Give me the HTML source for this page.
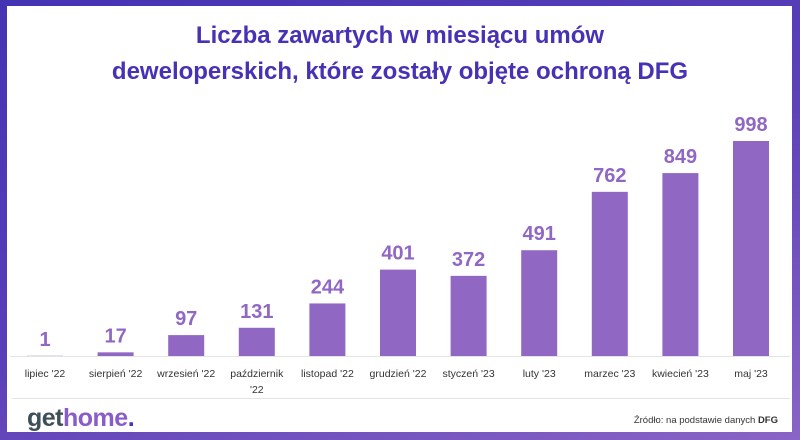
<!DOCTYPE html>
<html><head><meta charset="utf-8"><style>
html,body{margin:0;padding:0;background:#fff}
#wrap{position:relative;width:800px;height:440px;overflow:hidden;background:linear-gradient(160deg,#4433b3 0%,#5a3fb8 50%,#8a64c6 100%);font-family:"Liberation Sans",sans-serif}
#inner{position:absolute;left:7px;top:6px;width:785px;height:426px;background:#fff}
</style></head><body>
<div id="wrap">
<div id="inner"></div>
<svg id="chart" width="800" height="440" style="position:absolute;left:0;top:0">
<text x="400" y="43" text-anchor="middle" font-size="24" font-weight="bold" fill="#4632b5">Liczba zawartych w miesiącu umów</text>
<text x="400" y="79" text-anchor="middle" font-size="24" font-weight="bold" fill="#4632b5">deweloperskich, które zostały objęte ochroną DFG</text>
<line x1="10" y1="356.5" x2="790" y2="356.5" stroke="#e4e4e4"/>
<line x1="12" y1="398.5" x2="790" y2="398.5" stroke="#e4e4e4"/>
<g id="bars"></g>
<text x="27" y="426" font-size="25" font-weight="bold" fill="#3f4f5a" letter-spacing="-0.5">get<tspan fill="#8a5cc9">home</tspan><tspan fill="#4632b5">.</tspan></text>
<text x="778" y="423" text-anchor="end" font-size="9.5" fill="#333">Źródło: na podstawie danych <tspan font-weight="bold">DFG</tspan></text>
</svg>
</div>
<script>
const categories = ["lipiec '22","sierpień '22","wrzesień '22","październik|'22","listopad '22","grudzień '22","styczeń '23","luty '23","marzec '23","kwiecień '23","maj '23"];
const values = [1,17,97,131,244,401,372,491,762,849,998];
const baseY = 356, maxV = 998, maxH = 215;
function yScale(v){ return baseY - v / maxV * maxH; }
function xScale(i){ return 45 + i * 70.6; }
const ns = "http://www.w3.org/2000/svg";
const g = document.getElementById('bars');
categories.forEach((c, i) => {
  const cx = xScale(i), y = yScale(values[i]);
  const r = document.createElementNS(ns, 'rect');
  r.setAttribute('x', cx - 18); r.setAttribute('y', y);
  r.setAttribute('width', 36); r.setAttribute('height', baseY - y);
  r.setAttribute('fill', '#9068c4');
  
  
  g.appendChild(r);
  const t = document.createElementNS(ns, 'text');
  t.setAttribute('x', cx); t.setAttribute('y', y - 10);
  t.setAttribute('text-anchor', 'middle'); t.setAttribute('font-size', '20');
  t.setAttribute('font-weight', 'bold'); t.setAttribute('fill', '#9068c4');
  t.textContent = values[i];
  
  
  g.appendChild(t);
  c.split('|').forEach((line, k) => {
    const l = document.createElementNS(ns, 'text');
    l.setAttribute('x', cx); l.setAttribute('y', 377 + k * 16);
    l.setAttribute('text-anchor', 'middle'); l.setAttribute('font-size', '10.5');
    l.setAttribute('fill', '#333');
    l.textContent = line;
    
    
    g.appendChild(l);
  });
});
</script>
</body></html>
